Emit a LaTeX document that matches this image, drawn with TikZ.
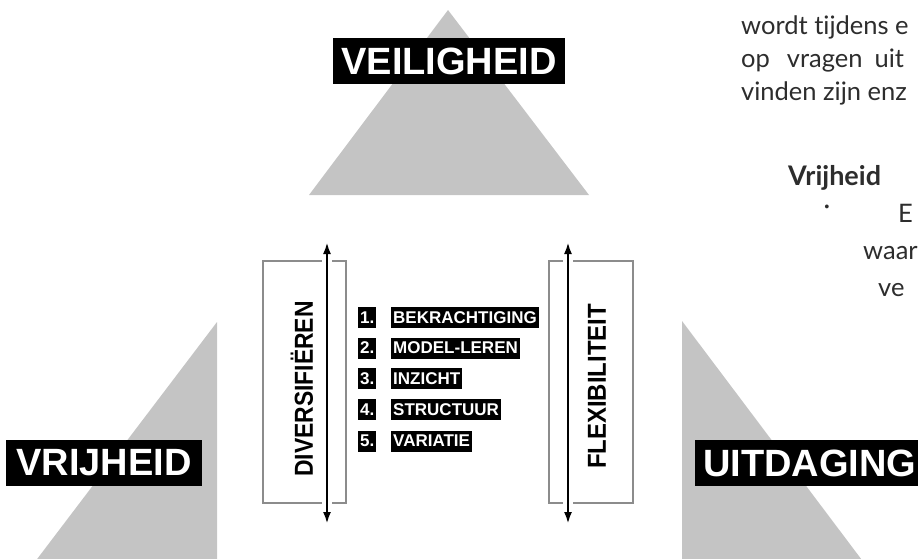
\documentclass[tikz,border=0pt]{standalone}
\usepackage{fontspec}
\usepackage{graphicx}
\setmainfont{Liberation Sans}
\newfontfamily\bodyfont[Ligatures=NoCommon]{Lato}
\usetikzlibrary{arrows.meta}
\definecolor{trigray}{RGB}{196,196,196}
\definecolor{framegray}{RGB}{140,140,140}
\definecolor{bodytext}{RGB}{45,45,45}
\begin{document}
\begin{tikzpicture}[x=1pt,y=-1pt,
  trishape/.style={fill=trigray, draw=none},
  biglabel/.style={fill=black, text=white, font=\fontsize{38}{38}\selectfont\bfseries,
    inner xsep=8pt, inner ysep=0pt, minimum height=46pt},
  framebox/.style={draw=framegray, line width=1.5pt, fill=none},
  vtext/.style={rotate=90, font=\fontsize{26}{26}\selectfont\bfseries, inner sep=0pt},
  dblarrow/.style={line width=2.5pt, {Latex[length=12pt,width=8pt]}-{Latex[length=12pt,width=8pt]},
    preaction={draw=white, line width=10pt, shorten <=12pt, shorten >=12pt, arrows=-}},
  numbox/.style={fill=black, text=white, font=\fontsize{17}{17}\selectfont\bfseries,
    inner xsep=2pt, inner ysep=0pt, minimum height=21pt, anchor=west},
  bodyline/.style={font=\bodyfont\fontsize{25.5}{25.5}\selectfont, text=bodytext, anchor=base west, inner sep=0pt},
  bodybold/.style={font=\bodyfont\bfseries\fontsize{27}{27}\selectfont, text=bodytext, anchor=base west, inner sep=0pt}
]
\useasboundingbox (0,0) rectangle (918,558);
\clip (0,0) rectangle (918,558);

% triangles
\fill[trishape] (309,195) -- (589,195) -- (448,10) -- cycle;
\fill[trishape] (217,322) -- (217,600) -- (6,600) -- cycle;
\fill[trishape] (682,321) -- (682,600) -- (892,600) -- cycle;

% big labels
\node[biglabel, minimum width=230pt] (veil) at (449,61) {VEILIGHEID};
\node[biglabel, minimum width=196pt] (vrij) at (104,463) {VRIJHEID};
\node[biglabel, anchor=west] (uitd) at (695,463) {UITDAGING};

% left frame
\node[framebox, minimum width=83pt, minimum height=242pt, inner sep=0pt] (divbox) at (304.5,382) {};
\node[vtext] (divtext) at (302,389) {\scalebox{0.88}[1]{DIVERSIFIËREN}};
\coordinate (dtop) at (327,242);
\coordinate (dbot) at (327,524);
\draw[dblarrow] (dbot) -- (dtop);

% right frame
\node[framebox, minimum width=84pt, minimum height=242pt, inner sep=0pt] (flexbox) at (591,382) {};
\node[vtext] (flextext) at (597,386.5) {\scalebox{0.92}[1]{FLEXIBILITEIT}};
\coordinate (ftop) at (568,242);
\coordinate (fbot) at (568,524);
\draw[dblarrow] (fbot) -- (ftop);

% list
\node[numbox] (n1) at (358,317.5) {1.};
\node[numbox] (l1) at (391,317.5) {BEKRACHTIGING};
\node[numbox] (n2) at (358,348) {2.};
\node[numbox] (l2) at (391,348) {MODEL-LEREN};
\node[numbox] (n3) at (358,378.5) {3.};
\node[numbox] (l3) at (391,378.5) {INZICHT};
\node[numbox] (n4) at (358,409.5) {4.};
\node[numbox] (l4) at (391,409.5) {STRUCTUUR};
\node[numbox] (n5) at (358,441) {5.};
\node[numbox] (l5) at (391,441) {VARIATIE};

% body text (right)
\node[bodyline] (b1) at (741,34) {wordt tijdens e};
\node[bodyline] (b2) at (741,67) {op\hspace{17pt}vragen\hspace{12pt}uit};
\node[bodyline] (b3) at (741,100) {vinden zijn enz};
\node[bodybold] (b4) at (788,185) {Vrijheid};
\node[bodyline, anchor=center] (b5) at (827,210) {·};
\node[bodyline] (b6) at (898,222) {E};
\node[bodyline] (b7) at (863,259) {waar};
\node[bodyline] (b8) at (878,296) {ve};
\end{tikzpicture}
\end{document}
